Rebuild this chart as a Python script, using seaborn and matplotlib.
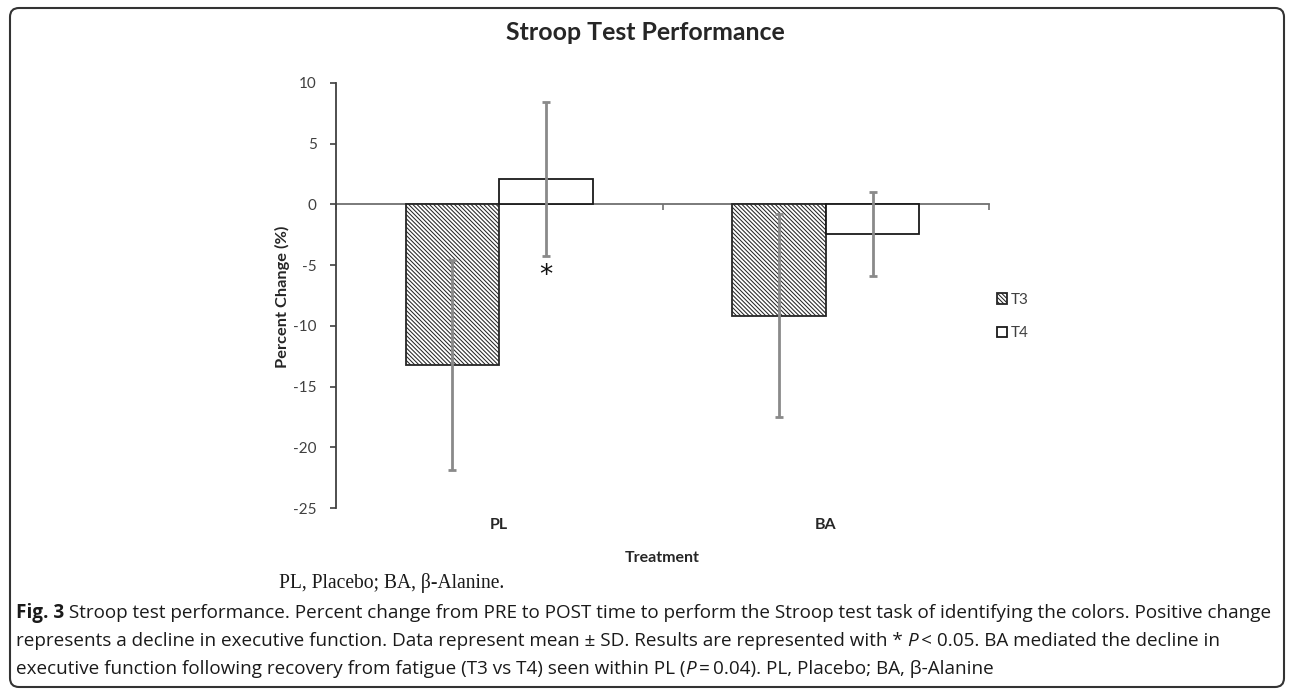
import numpy as np
import pandas as pd
import matplotlib
matplotlib.use("Agg")
import matplotlib.pyplot as plt
import seaborn as sns
from matplotlib.patches import FancyBboxPatch

# ---------------- data ----------------
treatments = ["PL", "BA"]
timepoints = ["T3", "T4"]
mean_t3 = [-13.25, -9.15]
sd_t3 = [8.65, 8.35]
mean_t4 = [2.1, -2.45]
sd_t4 = [6.35, 3.45]
yticks = [-25, -20, -15, -10, -5, 0, 5, 10]
star_value = -5.9  # y position of significance asterisk (PL, T4)

title = "Stroop Test Performance"
ylabel = "Percent Change (%)"
xlabel = "Treatment"
note = "PL, Placebo; BA, \u03b2-Alanine."
caption_lines = [
    [("Fig. 3", "bold", "normal"),
     (" Stroop test performance. Percent change from PRE to POST time to perform the Stroop test task of identifying the colors. Positive change", "normal", "normal")],
    [("represents a decline in executive function. Data represent mean \u00b1 SD. Results are represented with * ", "normal", "normal"),
     ("P", "normal", "italic"),
     ("\u2009< 0.05. BA mediated the decline in", "normal", "normal")],
    [("executive function following recovery from fatigue (T3 vs T4) seen within PL (", "normal", "normal"),
     ("P", "normal", "italic"),
     ("\u2009=\u20090.04). PL, Placebo; BA, \u03b2-Alanine", "normal", "normal")],
]

df = pd.DataFrame({
    "Treatment": treatments * 2,
    "Time": [timepoints[0]] * 2 + [timepoints[1]] * 2,
    "Change": mean_t3 + mean_t4,
    "SD": sd_t3 + sd_t4,
})

# ---------------- figure ----------------
W, H = 1290, 693
sns.set_theme(style="white")
plt.rcParams["font.family"] = ["Lato", "DejaVu Sans"]
plt.rcParams["hatch.linewidth"] = 0.75
fig = plt.figure(figsize=(W / 100, H / 100), dpi=100)
renderer = fig.canvas.get_renderer()

def fx(px):
    return px / W

def fy(py):
    return 1 - py / H

ax = fig.add_axes([fx(336), fy(508), (989 - 336) / W, (508 - 83) / H])

sns.barplot(data=df, x="Treatment", y="Change", hue="Time",
            order=treatments, hue_order=timepoints,
            palette=["white", "white"], edgecolor="#1a1a1a", linewidth=1.3,
            width=0.573, gap=0, errorbar=None, legend=False, ax=ax, zorder=2)

for p in ax.containers[0]:
    p.set_hatch("\\" * 8)
    p.set_edgecolor("#262626")

# error bars
sd_map = {(r.Treatment, r.Time): (r.Change, r.SD) for r in df.itertuples()}
for ci, tp in enumerate(timepoints):
    for j, tr in enumerate(treatments):
        p = ax.containers[ci][j]
        xc = p.get_x() + p.get_width() / 2
        m, s = sd_map[(tr, tp)]
        ax.errorbar(xc, m, yerr=s, fmt="none", ecolor="#8a8a8a",
                    elinewidth=2, capsize=3, capthick=2, zorder=4)

# asterisk below PL T4 error bar
p = ax.containers[1][0]
ax.text(p.get_x() + p.get_width() / 2, star_value, "*", ha="center",
        va="center", fontsize=19, color="#111111", zorder=5,
        family=["DejaVu Sans"])

ax.set_xlim(-0.5, 1.5)
ax.set_ylim(min(yticks), max(yticks))
ax.set_yticks(yticks)
ax.set_yticklabels([str(v) for v in yticks])
ax.tick_params(axis="y", direction="out", length=4, width=1.2, color="#404040",
               labelsize=11, labelcolor="#404040", pad=10, left=True)
ax.set_xticks([-0.5, 0.5, 1.5])
ax.set_xticklabels([])
ax.tick_params(axis="x", direction="out", length=4, width=1.2, color="#707070",
               bottom=True)
for side in ["top", "right"]:
    ax.spines[side].set_visible(False)
ax.spines["left"].set_color("#404040")
ax.spines["left"].set_linewidth(1.3)
ax.spines["bottom"].set_position(("data", 0))
ax.spines["bottom"].set_color("#707070")
ax.spines["bottom"].set_linewidth(1.3)
ax.spines["bottom"].set_zorder(1)

# category labels below plot
for i, tr in enumerate(treatments):
    ax.text(i, -17 / 425, tr, transform=ax.get_xaxis_transform(), ha="center",
            va="center", fontsize=11.5, fontweight="bold", color="#262626")

ax.set_ylabel(ylabel, fontsize=11.8, fontweight="bold", color="#262626")
ax.yaxis.set_label_coords((282 - 336) / 653, (508 - 297) / 425)
ax.yaxis.label.set_verticalalignment("center")
ax.set_xlabel(xlabel, fontsize=11.5, fontweight="bold", color="#262626")
ax.xaxis.set_label_coords((662 - 336) / 653, (508 - 558) / 425)
ax.xaxis.label.set_verticalalignment("center")

# legend
leg = ax.legend(handles=list(ax.containers), labels=timepoints,
                loc="center left", bbox_to_anchor=(fx(997), fy(316.5)),
                bbox_transform=fig.transFigure, frameon=False, fontsize=11,
                handlelength=0.65, handleheight=0.65, handletextpad=0.25,
                labelspacing=1.25, borderpad=0, borderaxespad=0)
for t in leg.get_texts():
    t.set_color("#404040")

# title
def fit_size(text, target_w, **kw):
    t = fig.text(0, 0, text, fontsize=10, **kw)
    w = t.get_window_extent(renderer).width
    t.remove()
    return 10 * target_w / w

ts = fit_size(title, 279, fontweight="bold")
fig.text(fx(645.5), fy(33), title, ha="center", va="center", fontsize=ts,
         fontweight="bold", color="#262626")

# note in serif
ns = fit_size(note, 226, family=["Liberation Serif", "DejaVu Serif"])
fig.text(fx(279), fy(583), note, ha="left", va="center", fontsize=ns,
         family=["Liberation Serif", "DejaVu Serif"], color="#1a1a1a")

# caption
cap_family = ["Open Sans", "DejaVu Sans"]

def line_width(segs, size):
    total = 0
    for txt, wt, st in segs:
        t = fig.text(0, 0, txt, fontsize=size, fontweight=wt, fontstyle=st,
                     family=cap_family)
        total += t.get_window_extent(renderer).width
        t.remove()
    return total

cs = 10 * (1268 - 16) / line_width(caption_lines[0], 10)
for segs, ypx in zip(caption_lines, [613, 641, 669]):
    x = 16
    for txt, wt, st in segs:
        t = fig.text(fx(x), fy(ypx), txt, ha="left", va="center", fontsize=cs,
                     fontweight=wt, fontstyle=st, family=cap_family,
                     color="#1a1a1a")
        x += t.get_window_extent(renderer).width

# rounded border
border = FancyBboxPatch((10, H - 687), 1274, 679,
                        boxstyle="round,pad=0,rounding_size=9",
                        transform=None, fill=False, edgecolor="#333333",
                        linewidth=1.5, figure=fig)
fig.patches.append(border)

fig.savefig("out.png", dpi=100)
